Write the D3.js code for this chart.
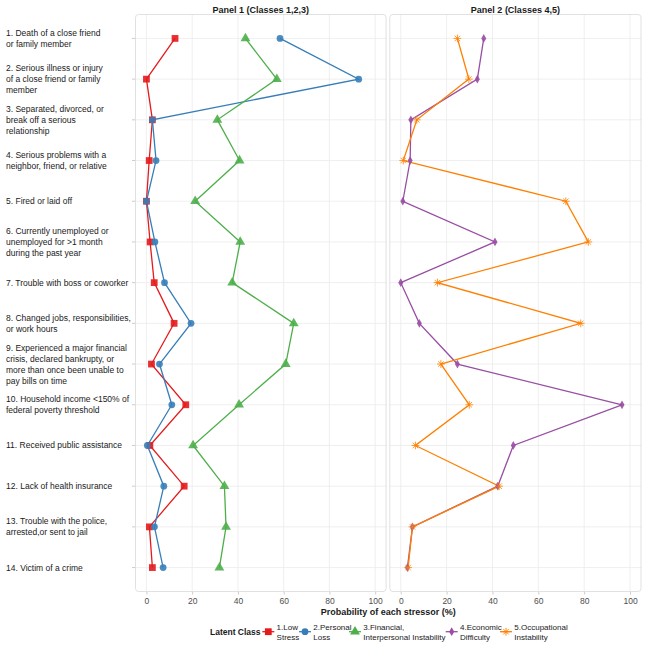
<!DOCTYPE html>
<html>
<head>
<meta charset="utf-8">
<script src="https://cdn.jsdelivr.net/npm/d3@7"></script>
<style>
  body { margin: 0; background: #fff; }
  svg { font-family: "Liberation Sans", Arial, sans-serif; }
</style>
</head>
<body>
<svg id="stress-chart" width="647" height="647"></svg>
<script>
// stressor labels, already wrapped the way the original shows them
const stressors = [
  "1. Death of a close friend\nor family member",
  "2. Serious illness or injury\nof a close friend or family\nmember",
  "3. Separated, divorced, or\nbreak off a serious\nrelationship",
  "4. Serious problems with a\nneighbor, friend, or relative",
  "5. Fired or laid off",
  "6. Currently unemployed or\nunemployed for >1 month\nduring the past year",
  "7. Trouble with boss or coworker",
  "8. Changed jobs, responsibilities,\nor work hours",
  "9. Experienced a major financial\ncrisis, declared bankrupty, or\nmore than once been unable to\npay bills on time",
  "10. Household income <150% of\nfederal poverty threshold",
  "11. Received public assistance",
  "12. Lack of health insurance",
  "13. Trouble with the police,\narrested,or sent to jail",
  "14. Victim of a crime"
];

// probability (%) of each stressor, per latent class
const lowStress = [12.5, 0, 2.6, 1.2, 0, 1.6, 3.4, 12.1, 2.2, 17.2, 1.5, 16.5, 1.3, 2.6];
const personalLoss = [58.4, 92.8, 2.6, 4.2, 0, 3.7, 7.9, 19.5, 5.7, 11.1, 0.4, 7.6, 3.5, 7.3];
const financialInstability = [43.3, 57.0, 31.0, 40.7, 21.3, 41.0, 37.5, 64.4, 60.9, 40.5, 20.4, 34.1, 34.8, 31.9];
const economicDifficulty = [36.2, 33.4, 4.4, 4.1, 0.9, 41.1, 0, 8.1, 24.7, 96.5, 49.1, 42.3, 5.1, 2.9];
const occupationalInstability = [24.7, 29.7, 7.0, 1.1, 72.0, 81.8, 16.0, 78.5, 17.5, 29.9, 6.4, 42.9, 5.1, 3.2];

const classNames = ["1.Low\nStress", "2.Personal\nLoss", "3.Financial,\nInterpersonal Instability", "4.Economic\nDifficulty", "5.Occupational\nInstability"];
const panelTitles = ["Panel 1 (Classes 1,2,3)", "Panel 2 (Classes 4,5)"];
const xTicks = [0, 20, 40, 60, 80, 100];

// ggplot-ish asterisk (shape 8): plus + times
var symbolStar = {
  draw: function(ctx, size) {
    var r = Math.sqrt(size) / 2, d = r * 0.7071;
    ctx.moveTo(-r, 0); ctx.lineTo(r, 0);
    ctx.moveTo(0, -r); ctx.lineTo(0, r);
    ctx.moveTo(-d, -d); ctx.lineTo(d, d);
    ctx.moveTo(-d, d); ctx.lineTo(d, -d);
  }
};

const series = [
  {name: classNames[0], values: lowStress, color: "#E41A1C", shape: d3.symbolSquare, size: 46, panel: 0},
  {name: classNames[1], values: personalLoss, color: "#377EB8", shape: d3.symbolCircle, size: 36, panel: 0},
  {name: classNames[2], values: financialInstability, color: "#4DAF4A", shape: d3.symbolTriangle, size: 42, panel: 0},
  {name: classNames[3], values: economicDifficulty, color: "#984EA3", shape: d3.symbolDiamond, size: 22, panel: 1},
  {name: classNames[4], values: occupationalInstability, color: "#FF7F00", shape: symbolStar, size: 60, panel: 1, stroke: true}
];

var svg = d3.select("#stress-chart");
var panelTop = 14, panelBottom = 592;

var xs = [
  d3.scaleLinear().domain([-5, 105]).range([135, 386.6]),
  d3.scaleLinear().domain([-5, 105]).range([389.3, 641.5])
];

var y = d3.scalePoint()
    .domain(d3.range(stressors.length))
    .range([panelTop, panelBottom])
    .padding(0.6);

// panels: background, grid, border, title
xs.forEach(function(x, p) {
  var g = svg.append("g").attr("class", "panel");
  var x0 = x.range()[0], x1 = x.range()[1];

  g.append("rect")
      .attr("x", x0).attr("y", panelTop)
      .attr("width", x1 - x0).attr("height", panelBottom - panelTop)
      .attr("fill", "#fff");

  g.selectAll(".vgrid").data(xTicks).enter().append("line")
      .attr("x1", function(d) { return x(d); })
      .attr("x2", function(d) { return x(d); })
      .attr("y1", panelTop).attr("y2", panelBottom)
      .attr("stroke", "#ebebeb").attr("stroke-width", 0.8);

  g.selectAll(".hgrid").data(y.domain()).enter().append("line")
      .attr("x1", x0).attr("x2", x1)
      .attr("y1", function(d) { return y(d); })
      .attr("y2", function(d) { return y(d); })
      .attr("stroke", "#ebebeb").attr("stroke-width", 0.8);

  g.append("rect")
      .attr("x", x0 + 0.5).attr("y", panelTop + 0.5)
      .attr("width", x1 - x0 - 1).attr("height", panelBottom - panelTop - 1)
      .attr("rx", 3)
      .attr("fill", "none")
      .attr("stroke", "#d9d9d9").attr("stroke-width", 0.8);

  svg.append("text")
      .attr("x", (x0 + x1) / 2).attr("y", 12.5)
      .attr("text-anchor", "middle")
      .style("font-size", "9px").style("font-weight", "bold")
      .attr("fill", "#1a1a1a")
      .text(panelTitles[p]);

  // bottom axis, no domain line
  var ax = svg.append("g")
      .attr("transform", "translate(0," + panelBottom + ")")
      .call(d3.axisBottom(x).tickValues(xTicks).tickSize(2.5).tickPadding(3));
  ax.select(".domain").remove();
  ax.selectAll(".tick line").attr("stroke", "#cccccc");
  ax.selectAll("text").attr("fill", "#4d4d4d").style("font-size", "8.5px")
      .style("font-family", "Liberation Sans, Arial, sans-serif");
});

// y tick marks + wrapped labels on the left
svg.selectAll(".ytick").data(y.domain()).enter().append("line")
    .attr("x1", 132).attr("x2", 135)
    .attr("y1", function(d) { return y(d); })
    .attr("y2", function(d) { return y(d); })
    .attr("stroke", "#cccccc");

var lineH = 11;
var ylab = svg.selectAll(".ylab").data(y.domain()).enter().append("text")
    .attr("class", "ylab")
    .attr("x", 6)
    .style("font-size", "8.5px")
    .attr("fill", "#1a1a1a");
ylab.each(function(d) {
  var lines = stressors[d].split("\n");
  var y0 = y(d) - (lines.length - 1) * lineH / 2;
  d3.select(this).selectAll("tspan").data(lines).enter().append("tspan")
      .attr("x", 6)
      .attr("y", function(l, i) { return y0 + i * lineH; })
      .attr("dy", "0.35em")
      .text(function(l) { return l; });
});

// lines then points
var line = d3.line()
    .x(function(d) { return d.x; })
    .y(function(d) { return d.y; });

series.forEach(function(s) {
  var x = xs[s.panel];
  var pts = s.values.map(function(v, i) { return {x: x(v), y: y(i)}; });
  svg.append("path")
      .datum(pts)
      .attr("d", line)
      .attr("fill", "none")
      .attr("stroke", s.color)
      .attr("stroke-width", 1.3);
});

series.forEach(function(s) {
  var x = xs[s.panel];
  svg.append("g").selectAll("path").data(s.values).enter().append("path")
      .attr("transform", function(v, i) { return "translate(" + x(v) + "," + y(i) + ")"; })
      .attr("d", d3.symbol().type(s.shape).size(s.size))
      .attr("fill", s.stroke ? "none" : s.color)
      .attr("stroke", s.stroke ? s.color : "none")
      .attr("stroke-width", s.stroke ? 0.9 : 0)
      .attr("opacity", 0.9);
});

// x axis title
svg.append("text")
    .attr("x", (135 + 641.5) / 2).attr("y", 615)
    .attr("text-anchor", "middle")
    .style("font-size", "9px").style("font-weight", "bold")
    .attr("fill", "#1a1a1a")
    .text("Probability of each stressor (%)");

// legend
var legY = 631.7;
svg.append("text")
    .attr("x", 210).attr("y", legY).attr("dy", "0.35em")
    .style("font-size", "8.5px").style("font-weight", "bold")
    .attr("fill", "#1a1a1a")
    .text("Latent Class");

var keyX = [268.3, 305, 355, 451.7, 506];
series.forEach(function(s, i) {
  var k = svg.append("g").attr("transform", "translate(" + keyX[i] + "," + legY + ")");
  k.append("line").attr("x1", -6).attr("x2", 6)
      .attr("stroke", s.color).attr("stroke-width", 1.3);
  k.append("path")
      .attr("d", d3.symbol().type(s.shape).size(s.size))
      .attr("fill", s.stroke ? "none" : s.color)
      .attr("stroke", s.stroke ? s.color : "none")
      .attr("stroke-width", s.stroke ? 0.9 : 0);
  var t = svg.append("text")
      .style("font-size", "8px")
      .attr("fill", "#1a1a1a");
  s.name.split("\n").forEach(function(l, j) {
    t.append("tspan")
        .attr("x", keyX[i] + 8.3)
        .attr("y", legY - 5 + j * 10)
        .attr("dy", "0.35em")
        .text(l);
  });
});
</script>
</body>
</html>
